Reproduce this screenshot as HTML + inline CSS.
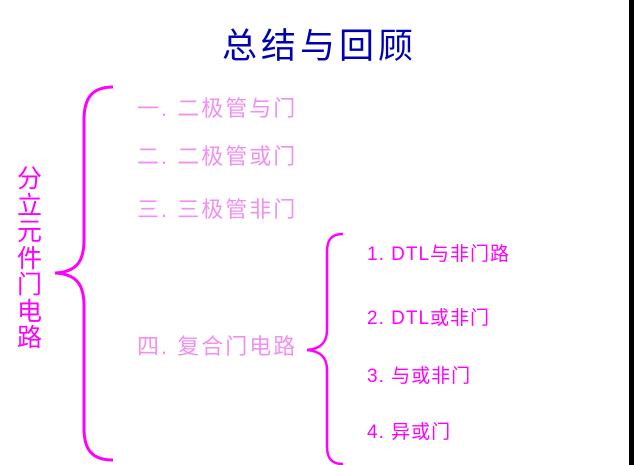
<!DOCTYPE html>
<html><head><meta charset="utf-8"><style>
html,body{margin:0;padding:0;background:#fff;}
#c{position:relative;width:634px;height:465px;overflow:hidden;background:#fff;font-family:"Liberation Sans","Noto Sans CJK SC",sans-serif;}
.t{position:absolute;white-space:nowrap;line-height:1;}
.p{color:#f090f0;font-size:22px;left:137px;letter-spacing:2px;}
.r{color:#ff00ff;font-size:19px;left:367px;letter-spacing:1px;}
</style></head><body><div id="c">
<div class="t" style="left:222px;top:29px;font-size:35px;color:#0000b0;letter-spacing:4px;">总结与回顾</div>
<div class="t" style="left:17px;top:166px;font-size:25px;color:#ff00ff;line-height:26.5px;width:26px;white-space:normal;">分立元件门电路</div>
<div class="t p" style="top:98px;">一. 二极管与门</div>
<div class="t p" style="top:146px;">二. 二极管或门</div>
<div class="t p" style="top:199px;">三. 三极管非门</div>
<div class="t p" style="top:336px;">四. 复合门电路</div>
<div class="t r" style="top:245px;">1. DTL与非门路</div>
<div class="t r" style="top:309px;">2. DTL或非门</div>
<div class="t r" style="top:367px;">3. 与或非门</div>
<div class="t r" style="top:423px;">4. 异或门</div>
<svg width="634" height="465" style="position:absolute;left:0;top:0">
<path d="M113,87 C92,87 84,98 84,120 L84,240 C84,262 76,272 55,273 C76,274 84,284 84,306 L84,428 C84,450 92,460 113,460" fill="none" stroke="#ff00ff" stroke-width="3"/>
<path d="M343,234 C331,234 327,240 327,252 L327,330 C327,343 320,349 307,350 C320,351 327,357 327,370 L327,446 C327,458 331,464 343,464" fill="none" stroke="#ff00ff" stroke-width="2.5"/>
<rect x="629" y="0" width="5" height="465" fill="#000"/>
</svg>
</div></body></html>
